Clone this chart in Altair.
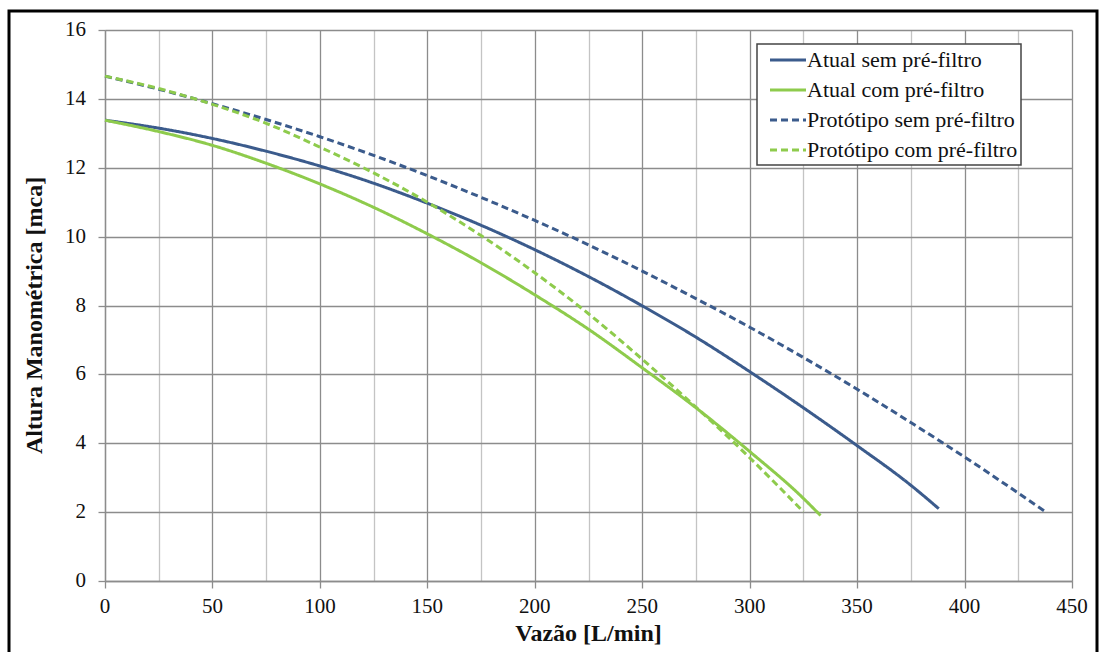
import altair as alt
import pandas as pd

# Flow (L/min) and head (mca)
x_atual_sem = [0, 25, 50, 75, 100, 125, 150, 175, 200, 225, 250, 275, 300, 325, 350, 375, 388]
y_atual_sem = [13.38, 13.15, 12.85, 12.48, 12.05, 11.55, 10.97, 10.33, 9.62, 8.84, 7.99, 7.08, 6.08, 5.03, 3.93, 2.78, 2.1]

x_atual_com = [0, 25, 50, 75, 100, 125, 150, 175, 200, 225, 250, 275, 300, 325, 333]
y_atual_com = [13.38, 13.05, 12.65, 12.13, 11.53, 10.85, 10.08, 9.24, 8.31, 7.31, 6.19, 5.03, 3.76, 2.4, 1.9]

x_prot_sem = [0, 25, 50, 75, 100, 125, 150, 175, 200, 225, 250, 275, 300, 325, 350, 375, 400, 437]
y_prot_sem = [14.66, 14.28, 13.86, 13.4, 12.9, 12.36, 11.77, 11.14, 10.47, 9.76, 9.0, 8.2, 7.37, 6.49, 5.57, 4.6, 3.6, 2.04]

x_prot_com = [0, 25, 50, 75, 100, 125, 150, 175, 200, 225, 250, 275, 300, 325]
y_prot_com = [14.66, 14.3, 13.84, 13.29, 12.6, 11.85, 11.0, 10.03, 8.95, 7.76, 6.44, 5.05, 3.58, 2.01]

series_names = ["Atual sem pré-filtro", "Atual com pré-filtro",
                "Protótipo sem pré-filtro", "Protótipo com pré-filtro"]
series_colors = ["#3b5b8c", "#8ecb4c", "#3b5b8c", "#8ecb4c"]
series_dashes = [[1, 0], [1, 0], [7, 4], [7, 4]]

x_ticks = list(range(0, 451, 25))
x_labels = list(range(0, 451, 50))
y_ticks = list(range(0, 17, 2))

x_title = "Vazão [L/min]"
y_title = "Altura Manométrica [mca]"

rows = []
for name, xs, ys in zip(series_names,
                        [x_atual_sem, x_atual_com, x_prot_sem, x_prot_com],
                        [y_atual_sem, y_atual_com, y_prot_sem, y_prot_com]):
    for xv, yv in zip(xs, ys):
        rows.append({"serie": name, "vazao": xv, "altura": yv})
df = pd.DataFrame(rows)

FONT = "Liberation Serif"
TXT = "#111111"
W, H = 967, 551

xscale = alt.Scale(domain=[0, 450], nice=False, zero=True)
yscale = alt.Scale(domain=[0, 16], nice=False)
cscale = alt.Scale(domain=series_names, range=series_colors)
dscale = alt.Scale(domain=series_names, range=series_dashes)

lines = alt.Chart(df).mark_line(strokeWidth=3, interpolate="monotone").encode(
    x=alt.X("vazao:Q", scale=xscale,
            axis=alt.Axis(
                values=x_ticks, labels=False, title=None,
                grid=True,
                gridColor={"condition": {"test": "datum.value % 50 === 0", "value": "#8c8c8c"},
                           "value": "#c4c4c4"},
                gridWidth=1.3,
                tickOpacity={"condition": {"test": "datum.value % 50 === 0", "value": 1},
                             "value": 0},
                tickSize=7, tickColor="#8c8c8c", tickWidth=1.3,
                domainColor="#8c8c8c", domainWidth=1.3,
            )),
    y=alt.Y("altura:Q", scale=yscale,
            axis=alt.Axis(
                values=y_ticks, labels=False, title=None,
                grid=True, gridColor="#8c8c8c", gridWidth=1.3,
                tickSize=7, tickColor="#8c8c8c", tickWidth=1.3,
                domainColor="#8c8c8c", domainWidth=1.3,
            )),
    color=alt.Color("serie:N", scale=cscale, legend=None),
    strokeDash=alt.StrokeDash("serie:N", scale=dscale, legend=None),
)

xlab = alt.Chart(pd.DataFrame({"vazao": x_labels})).mark_text(
    font=FONT, fontSize=21, color=TXT, baseline="top", align="center"
).encode(x=alt.X("vazao:Q", scale=xscale), y=alt.value(H + 15), text=alt.Text("vazao:Q"))

ylab = alt.Chart(pd.DataFrame({"altura": y_ticks})).mark_text(
    font=FONT, fontSize=21, color=TXT, baseline="middle", align="right"
).encode(y=alt.Y("altura:Q", scale=yscale), x=alt.value(-19), text=alt.Text("altura:Q"))

xtit = alt.Chart(pd.DataFrame({"t": [x_title]})).mark_text(
    font=FONT, fontSize=24, fontWeight="bold", color=TXT, baseline="middle", align="center"
).encode(x=alt.value(W / 2), y=alt.value(H + 53), text="t:N")

ytit = alt.Chart(pd.DataFrame({"t": [y_title]})).mark_text(
    font=FONT, fontSize=24, fontWeight="bold", color=TXT, baseline="middle", align="center",
    angle=270
).encode(x=alt.value(-70), y=alt.value(H / 2 + 10), text="t:N")

frame = alt.Chart(alt.Data(values=[{"a": 1}])).mark_rect(
    filled=False, stroke="black", strokeWidth=3
).encode(
    x=alt.value(-96), x2=alt.value(992), y=alt.value(-19), y2=alt.value(H + 90)
)

main = alt.layer(lines, xlab, ylab, xtit, ytit, frame)

# legend built from the series names
leg_df = pd.DataFrame({"serie": series_names})
leg_y = alt.Y("serie:N", scale=alt.Scale(type="point", domain=series_names,
                                          range=[30, 120], padding=0), axis=None)
leg_box = alt.Chart(alt.Data(values=[{"a": 1}])).mark_rect(
    fill="white", stroke="#444444", strokeWidth=1.5
).encode(x=alt.value(652), x2=alt.value(916), y=alt.value(14), y2=alt.value(135))
leg_sym = alt.Chart(leg_df).mark_rule(strokeWidth=3).encode(
    x=alt.value(665), x2=alt.value(701), y=leg_y,
    color=alt.Color("serie:N", scale=cscale, legend=None),
    strokeDash=alt.StrokeDash("serie:N", scale=dscale, legend=None),
)
leg_txt = alt.Chart(leg_df).mark_text(
    font=FONT, fontSize=22, color=TXT, align="left", baseline="middle"
).encode(x=alt.value(702), y=leg_y, text="serie:N")
legend = alt.layer(leg_box, leg_sym, leg_txt)

chart = alt.layer(main, legend).resolve_scale(y="independent").properties(
    width=W, height=H,
    autosize=alt.AutoSizeParams(type="none"),
    padding={"left": 105, "top": 30, "right": 28, "bottom": 71},
    background="white",
).configure_view(stroke=None)

chart.save("out.html", embed_options={"renderer": "svg", "actions": False})
